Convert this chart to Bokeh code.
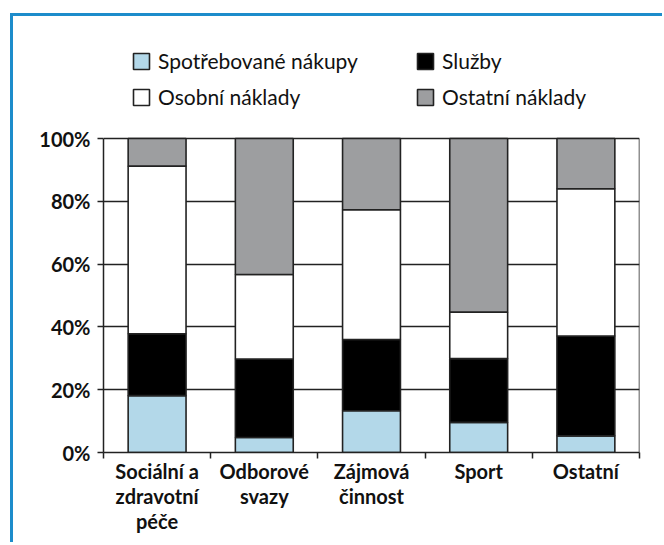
from bokeh.plotting import figure
from bokeh.models import (ColumnDataSource, Range1d, FixedTicker, PrintfTickFormatter,
                          Legend, LegendItem)
from bokeh.embed import file_html
from bokeh.resources import INLINE

categories = ["Sociální a zdravotní péče", "Odborové svazy", "Zájmová činnost", "Sport", "Ostatní"]
category_labels = ["Sociální a\nzdravotní\npéče", "Odborové\nsvazy", "Zájmová\nčinnost", "Sport", "Ostatní"]
series = ["Spotřebované nákupy", "Služby", "Osobní náklady", "Ostatní náklady"]
spotrebovane_nakupy = [18.1, 4.8, 13.3, 9.6, 5.3]
sluzby = [19.7, 25.0, 22.7, 20.3, 31.8]
osobni_naklady = [53.4, 26.9, 41.3, 14.8, 46.9]
ostatni_naklady = [8.8, 43.3, 22.7, 55.3, 16.0]
y_ticks = [0, 20, 40, 60, 80, 100]
colors = ["#b3d8e9", "#000000", "#ffffff", "#9d9ea0"]

n = len(categories)
centers = [i + 0.5 for i in range(n)]
bounds = [float(i) for i in range(n + 1)]

src = ColumnDataSource(data={
    "x": centers,
    series[0]: spotrebovane_nakupy,
    series[1]: sluzby,
    series[2]: osobni_naklady,
    series[3]: ostatni_naklady,
})

# frame: 536 px wide; 0..100 % spans 314 px, extra room above for the legend
FW, PLOT_H, FH = 536, 314, 430
y_top = 100.0 * FH / PLOT_H
p = figure(frame_width=FW, frame_height=FH, x_range=Range1d(0, n), y_range=Range1d(0, y_top),
           output_backend="svg", toolbar_location=None,
           min_border_left=90, min_border_right=23, min_border_top=6, min_border_bottom=90)
p.styles = {"border-top": "3px solid #1d8ccb", "border-left": "3px solid #1d8ccb",
            "margin-left": "10px", "margin-top": "13px"}

renderers = p.vbar_stack(series, x="x", width=0.54, source=src, fill_color=colors,
                         line_color="#222222", line_width=1.6)

# right edge of the plotting box
p.segment(x0=[n], y0=[0], x1=[n], y1=[100], line_color="#222222", line_width=1.5)

# x axis
p.xaxis.ticker = FixedTicker(ticks=centers, minor_ticks=bounds)
p.xaxis.major_label_overrides = {c: l for c, l in zip(centers, category_labels)}
p.xaxis.major_tick_line_color = None
p.xaxis.major_tick_out = 0
p.xaxis.major_tick_in = 0
p.xaxis.minor_tick_out = 6
p.xaxis.minor_tick_in = 0
p.xaxis.minor_tick_line_color = "#222222"
p.xaxis.minor_tick_line_width = 1.5
p.xaxis.major_label_standoff = 0
p.xaxis.major_label_text_font = "Lato"
p.xaxis.major_label_text_font_style = "bold"
p.xaxis.major_label_text_font_size = "20px"
p.xaxis.major_label_text_line_height = 1.05
p.xaxis.major_label_text_color = "#111111"

# y axis
p.yaxis.ticker = FixedTicker(ticks=y_ticks)
p.yaxis.formatter = PrintfTickFormatter(format="%d%%")
p.yaxis.bounds = (0, 100)
p.yaxis.major_tick_out = 6
p.yaxis.major_tick_in = 0
p.yaxis.minor_tick_line_color = None
p.yaxis.major_tick_line_color = "#222222"
p.yaxis.major_tick_line_width = 1.5
p.yaxis.major_label_standoff = 7
p.yaxis.major_label_text_font = "Lato"
p.yaxis.major_label_text_font_style = "bold"
p.yaxis.major_label_text_font_size = "20px"
p.yaxis.major_label_text_color = "#111111"

for ax in (p.xaxis, p.yaxis):
    ax.axis_line_color = "#222222"
    ax.axis_line_width = 1.5

p.xgrid.visible = False
p.ygrid.grid_line_color = "#222222"
p.ygrid.grid_line_width = 1.5
p.ygrid.grid_line_alpha = 1.0
p.outline_line_color = None

legend = Legend(items=[LegendItem(label=s, renderers=[r]) for s, r in zip(series, renderers)],
                orientation="horizontal", ncols=2, location=(28, 343), margin=0, padding=0,
                glyph_width=20, glyph_height=20, label_standoff=7, label_width=246,
                label_height=20, spacing=11,
                label_text_font="Lato", label_text_font_size="21px",
                label_text_color="#111111",
                border_line_alpha=0, background_fill_alpha=0)
p.add_layout(legend)

open("out.html", "w").write(file_html(p, INLINE))
